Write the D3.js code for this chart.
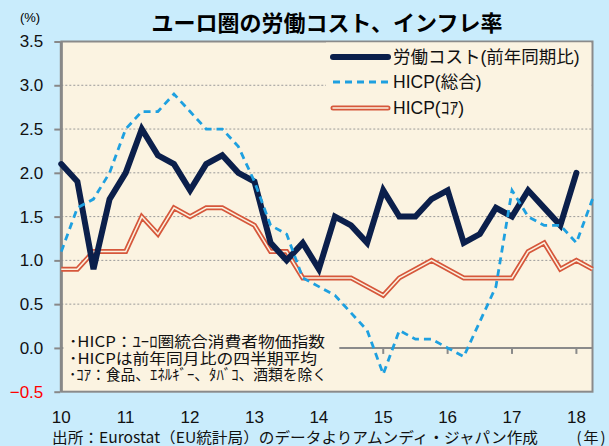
<!DOCTYPE html>
<html>
<head>
<meta charset="utf-8">
<script src="https://cdn.jsdelivr.net/npm/d3@7"></script>
<style>
  body { margin: 0; background: #c9ecfc; }
  svg text { font-family: "Liberation Sans", "Noto Sans CJK JP", sans-serif; }
</style>
</head>
<body>
<svg id="chart"></svg>
<script>
// quarterly, 2010Q1 onwards
const laborCost = [2.1, 1.9, 0.9, 1.7, 2.0, 2.5, 2.2, 2.1, 1.8, 2.1, 2.2, 2.0, 1.9, 1.2, 1.0, 1.2,
  0.9, 1.5, 1.4, 1.2, 1.8, 1.5, 1.5, 1.7, 1.8, 1.2, 1.3, 1.6, 1.5, 1.8, 1.6, 1.4, 2.0];
const hicp = [1.1, 1.6, 1.7, 2.0, 2.5, 2.7, 2.7, 2.9, 2.7, 2.5, 2.5, 2.3, 1.9, 1.4, 1.3, 0.8,
  0.7, 0.6, 0.4, 0.2, -0.3, 0.2, 0.1, 0.1, 0.0, -0.1, 0.3, 0.7, 1.8, 1.5, 1.4, 1.4, 1.2, 1.7];
const hicpCore = [0.9, 0.9, 1.1, 1.1, 1.1, 1.5, 1.3, 1.6, 1.5, 1.6, 1.6, 1.5, 1.4, 1.1, 1.1, 0.8,
  0.8, 0.8, 0.8, 0.7, 0.6, 0.8, 0.9, 1.0, 0.9, 0.8, 0.8, 0.8, 0.8, 1.1, 1.2, 0.9, 1.0, 0.9];
const years = [10, 11, 12, 13, 14, 15, 16, 17, 18];
const yTicks = [-0.5, 0.0, 0.5, 1.0, 1.5, 2.0, 2.5, 3.0, 3.5];
const legendNames = ["労働コスト(前年同期比)", "HICP(総合)", "HICP(ｺｱ)"];
const notes = ["･HICP：ﾕｰﾛ圏統合消費者物価指数", "･HICPは前年同月比の四半期平均", "･ｺｱ：食品、ｴﾈﾙｷﾞｰ、ﾀﾊﾞｺ、酒類を除く"];

const W = 609, H = 446;
const plotBg = "#fbf3e1";
const navy = "#0b1f4b", blue = "#1ea0e0", red = "#d6573b";
const jp = "'Noto Sans CJK JP', sans-serif";

const svg = d3.select("#chart").attr("width", W).attr("height", H);
svg.append("rect").attr("width", W).attr("height", H).attr("fill", "#c9ecfc");

const x = d3.scaleLinear().domain([10, 18.25]).range([61.3, 592.5]);
const y = d3.scaleLinear().domain([-0.5, 3.5]).range([391.7, 41.5]);
const xq = (d, i) => x(10 + i / 4);

// title
svg.append("text").attr("x", 327).attr("y", 31).attr("text-anchor", "middle")
  .attr("font-size", 22).attr("font-weight", "bold")
  .style("font-family", jp)
  .text("ユーロ圏の労働コスト、インフレ率");

svg.append("text").attr("x", 30).attr("y", 22).attr("text-anchor", "middle")
  .attr("font-size", 13).text("(%)");

// plot area
svg.append("rect").attr("x", x(10)).attr("y", y(3.5))
  .attr("width", x(18.25) - x(10)).attr("height", y(-0.5) - y(3.5))
  .attr("fill", plotBg);

// grid
svg.append("g").selectAll("line")
  .data(yTicks.filter(d => d !== 0 && d !== -0.5 && d !== 3.5))
  .enter().append("line")
  .attr("x1", x(10)).attr("x2", x(18.25))
  .attr("y1", d => y(d)).attr("y2", d => y(d))
  .attr("stroke", "#9a9a9a").attr("stroke-width", 1).attr("stroke-dasharray", "2,2");

// zero axis with year ticks
svg.append("line").attr("x1", x(10)).attr("x2", x(18.25))
  .attr("y1", y(0)).attr("y2", y(0)).attr("stroke", "#8a8a8a").attr("stroke-width", 2);
svg.append("g").selectAll("line").data(years.slice(1)).enter().append("line")
  .attr("x1", d => x(d)).attr("x2", d => x(d))
  .attr("y1", y(0)).attr("y2", y(0) + 6)
  .attr("stroke", "#8a8a8a").attr("stroke-width", 2);

// frame
svg.append("rect").attr("x", x(10)).attr("y", y(3.5))
  .attr("width", x(18.25) - x(10)).attr("height", y(-0.5) - y(3.5))
  .attr("fill", "none").attr("stroke", "#8a8a8a").attr("stroke-width", 2);
svg.append("line").attr("x1", x(10)).attr("x2", x(10))
  .attr("y1", y(3.5)).attr("y2", y(-0.5)).attr("stroke", "#888").attr("stroke-width", 3);

// y axis
const yAxis = svg.append("g").attr("transform", `translate(${x(10) - 1},0)`)
  .call(d3.axisLeft(y).tickValues(yTicks).tickFormat(d3.format(".1f")).tickSize(6).tickPadding(11));
yAxis.select(".domain").remove();
yAxis.selectAll("line").attr("stroke", "#888").attr("stroke-width", 2);
yAxis.selectAll("text").attr("font-size", 17).attr("fill", d => d < 0 ? "#ff0000" : "#111");

// x labels
svg.append("g").selectAll("text").data(years).enter().append("text")
  .attr("x", d => x(d)).attr("y", 423).attr("text-anchor", "middle")
  .attr("font-size", 17).attr("fill", "#111").text(d => d);

// notes box
svg.append("rect").attr("x", x(10) + 2).attr("y", 331).attr("width", 276).attr("height", 53)
  .attr("fill", plotBg);
const noteW = [256, 248, 258];
svg.append("g").selectAll("text").data(notes).enter().append("text")
  .attr("x", 69).attr("y", (d, i) => 347 + i * 16.5)
  .attr("font-size", 15).attr("fill", "#111")
  .attr("textLength", (d, i) => noteW[i]).attr("lengthAdjust", "spacingAndGlyphs")
  .style("font-family", jp).text(d => d);

// series
const line = d3.line().x(xq).y(d => y(d));
svg.append("path").datum(hicpCore).attr("d", line).attr("fill", "none")
  .attr("stroke", red).attr("stroke-width", 5).attr("stroke-linejoin", "miter");
svg.append("path").datum(hicpCore).attr("d", line).attr("fill", "none")
  .attr("stroke", plotBg).attr("stroke-width", 1.5);
svg.append("path").datum(laborCost).attr("d", line).attr("fill", "none")
  .attr("stroke", navy).attr("stroke-width", 6).attr("stroke-linejoin", "miter").attr("stroke-linecap", "round");
svg.append("path").datum(hicp).attr("d", line).attr("fill", "none")
  .attr("stroke", blue).attr("stroke-width", 2.8).attr("stroke-dasharray", "7,5");

// legend
svg.append("rect").attr("x", 326).attr("y", y(3.5) + 1).attr("width", 265).attr("height", 77)
  .attr("fill", plotBg);
const lg = svg.append("g");
const ly = [57, 82, 108];
lg.append("line").attr("x1", 333).attr("x2", 388).attr("y1", ly[0]).attr("y2", ly[0])
  .attr("stroke", navy).attr("stroke-width", 6).attr("stroke-linecap", "round");
lg.append("line").attr("x1", 333).attr("x2", 388).attr("y1", ly[1]).attr("y2", ly[1])
  .attr("stroke", blue).attr("stroke-width", 2.8).attr("stroke-dasharray", "7,5");
lg.append("line").attr("x1", 333).attr("x2", 388).attr("y1", ly[2]).attr("y2", ly[2])
  .attr("stroke", red).attr("stroke-width", 5).attr("stroke-linecap", "round");
lg.append("line").attr("x1", 333).attr("x2", 388).attr("y1", ly[2]).attr("y2", ly[2])
  .attr("stroke", plotBg).attr("stroke-width", 1.5).attr("stroke-linecap", "round");
lg.selectAll("text").data(legendNames).enter().append("text")
  .attr("x", 393).attr("y", (d, i) => ly[i] + 6).attr("font-size", 17.5).attr("fill", "#111")
  .text(d => d);

// footer
svg.append("text").attr("x", 52).attr("y", 443).attr("font-size", 15).attr("fill", "#111")
  .attr("textLength", 486).attr("lengthAdjust", "spacingAndGlyphs")
  .style("font-family", jp)
  .text("出所：Eurostat（EU統計局）のデータよりアムンディ・ジャパン作成");
svg.append("text").attr("x", 592).attr("y", 443).attr("font-size", 15).attr("fill", "#111")
  .attr("text-anchor", "middle").attr("letter-spacing", 2)
  .style("font-family", jp).text("(年)");
</script>
</body>
</html>
